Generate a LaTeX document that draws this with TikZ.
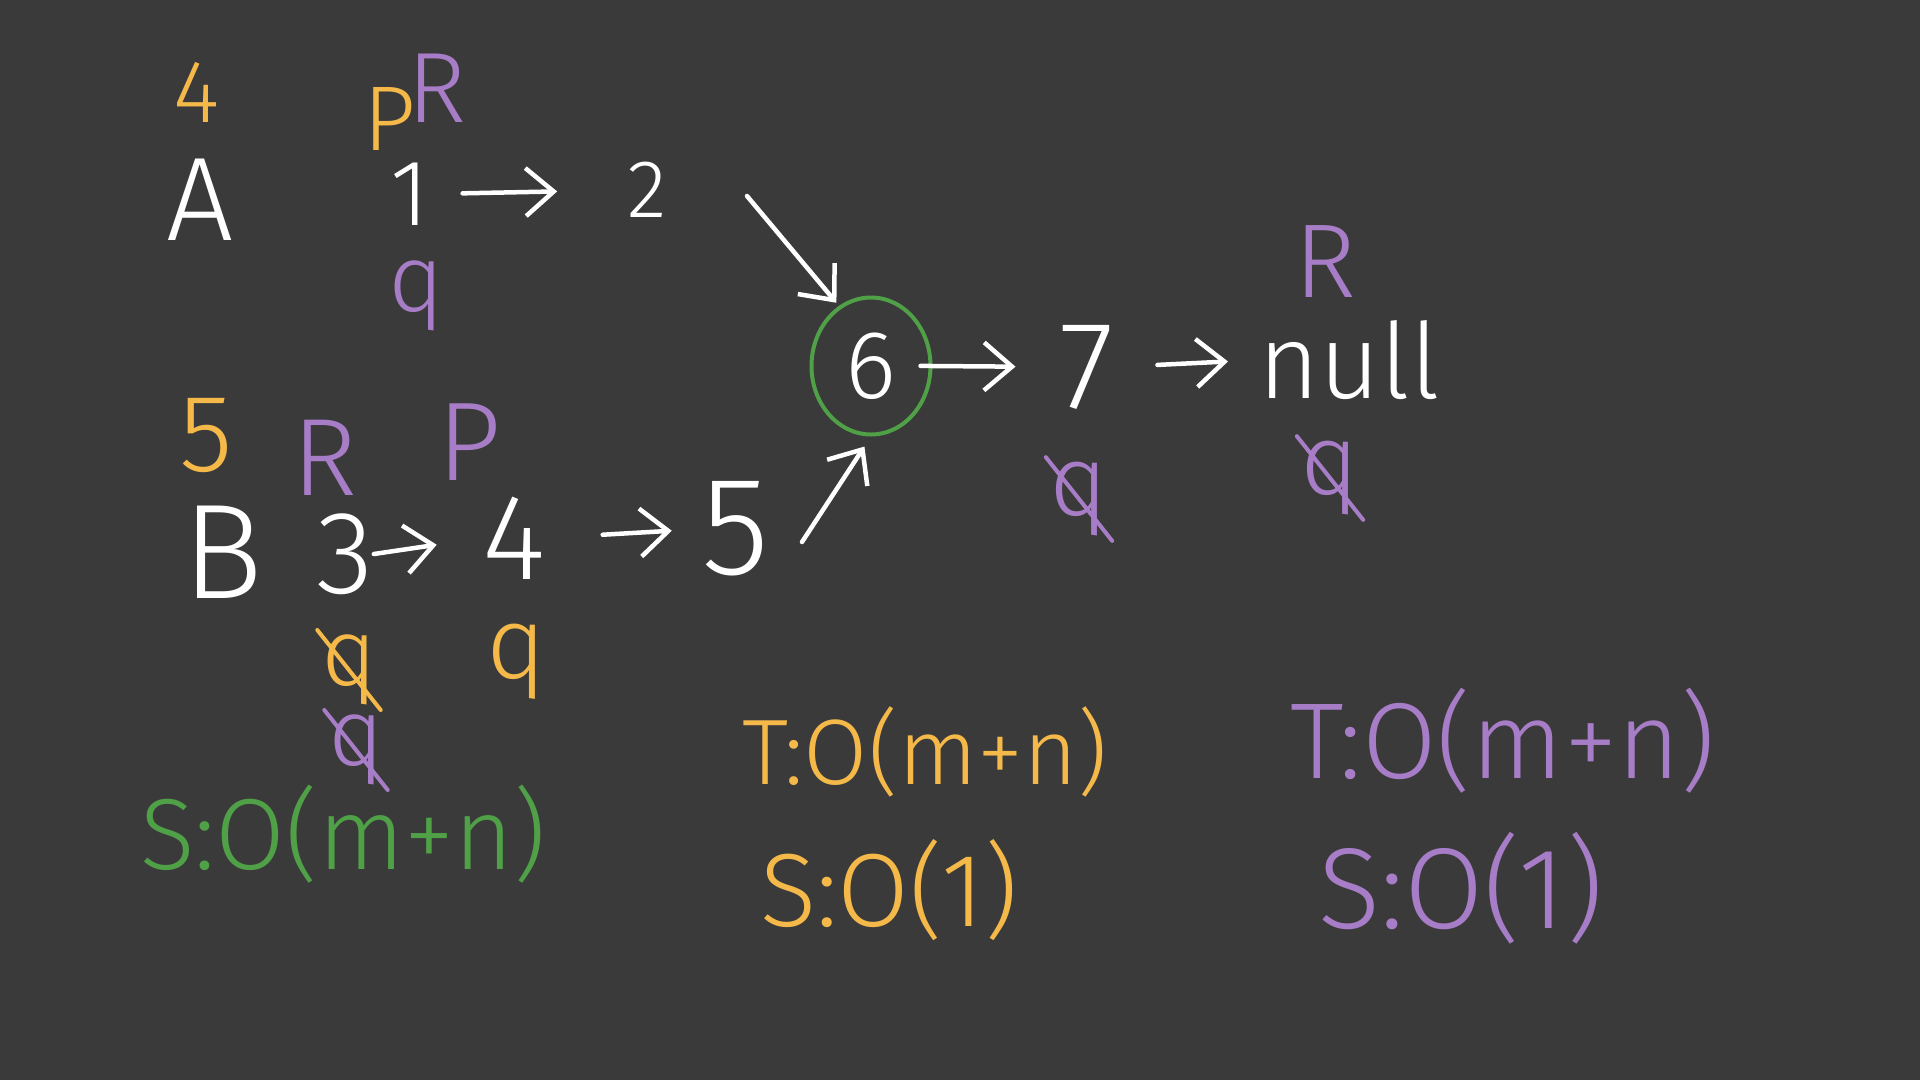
\documentclass[tikz,border=0pt]{standalone}
\usepackage{fontspec}
\setmainfont{Fira Sans Light}
\usetikzlibrary{arrows.meta,shapes.geometric}

\definecolor{bgc}{HTML}{3A3A3A}
\definecolor{penY}{HTML}{F5B94A}
\definecolor{penP}{HTML}{A87DC8}
\definecolor{penG}{HTML}{4FA047}

\tikzset{
  sz/.style={font=\fontsize{#1}{#1}\selectfont},
  wht/.style={text=white, inner sep=0pt},
  ylw/.style={text=penY, inner sep=0pt},
  ppl/.style={text=penP, inner sep=0pt},
  grn/.style={text=penG, inner sep=0pt},
  pen/.style={white, line width=4.5pt, line cap=round,
    -{Straight Barb[length=28pt,width=48pt]}},
  strike/.style={line width=4pt, line cap=round, shorten <=-6pt, shorten >=-6pt},
}

\begin{document}
\begin{tikzpicture}[x=1pt, y=-1pt]
        % Board
        \fill[bgc] (0,0) rectangle (1920,1080);

        % List A
        \node[ylw, sz=89] (lenA) at (197,92) {4};
        \node[wht, sz=119] (nameA) at (200,200) {A};
        \node[ylw, sz=92] (pA) at (390,119) {P};
        \node[ppl, sz=100] (rA) at (437,88) {R};
        \node[wht, sz=94] (one) at (410,194) {1};
        \node[wht, sz=82] (two) at (647,190) {2};
        \node[ppl, sz=95] (qA) at (416,296) {q};

        % shared part
        \node[wht, sz=97, draw=penG, line width=4pt, ellipse,
              minimum width=119pt, minimum height=137pt] (six) at (871,366) {6};
        \node[wht, sz=125] (seven) at (1087,367) {7};
        \node[wht, sz=105] (null) at (1349,360) {null};
        \node[ppl, sz=105] (rN) at (1325,262) {R};
        \node[ppl, sz=100] (qS) at (1079,499) {q};
        \node[ppl, sz=100] (qN) at (1330,478) {q};

        % List B
        \node[ylw, sz=110] (lenB) at (206,436) {5};
        \node[wht, sz=135] (nameB) at (223,552) {B};
        \node[ppl, sz=110] (rB) at (325,458) {R};
        \node[wht, sz=118] (three) at (345,554) {3};
        \node[ppl, sz=112] (pB) at (469,442) {P};
        \node[wht, sz=122] (four) at (514,538) {4};
        \node[wht, sz=140] (five) at (736,529) {5};
        \node[ylw, sz=95] (qB1) at (349,670) {q};
        \node[ylw, sz=102] (qB2) at (516,662) {q};
        \node[ppl, sz=95] (qB3) at (356,750) {q};

        % crossed out
        \draw[strike, penP] (qS.north west) -- (qS.south east);
        \draw[strike, penP] (qN.north west) -- (qN.south east);
        \draw[strike, penY] (qB1.north west) -- (qB1.south east);
        \draw[strike, penP] (qB3.north west) -- (qB3.south east);

        % links
        \coordinate (from2) at (747,196);
        \coordinate (from5) at (802,542);
        \draw[pen, shorten <=33pt, shorten >=70pt] (one.east) -- (two.west);
        \draw[pen, shorten >=4pt] (from2) -- (six.118);
        \draw[pen, shorten <=-12pt, shorten >=44pt] (six.east) -- (seven.west);
        \draw[pen, shorten <=43pt, shorten >=30pt] (seven.east) -- (null.west);
        \draw[pen, shorten >=46pt] (three.east) -- (four.west);
        \draw[pen, shorten <=57pt, shorten >=30pt] (four.east) -- (five.west);
        \draw[pen, shorten >=12pt] (from5) -- (six.south);

        % complexity
        \node[grn, sz=101] (spaceG) at (343,834) {S:O(m+n)};
        \node[ylw, sz=93] (timeY) at (925,752) {T:O(m+n)};
        \node[ylw, sz=104] (spaceY) at (889,890) {S:O(1)};
        \node[ppl, sz=108] (timeP) at (1503,741) {T:O(m+n)};
        \node[ppl, sz=115] (spaceP) at (1461,888) {S:O(1)};
\end{tikzpicture}
\end{document}
